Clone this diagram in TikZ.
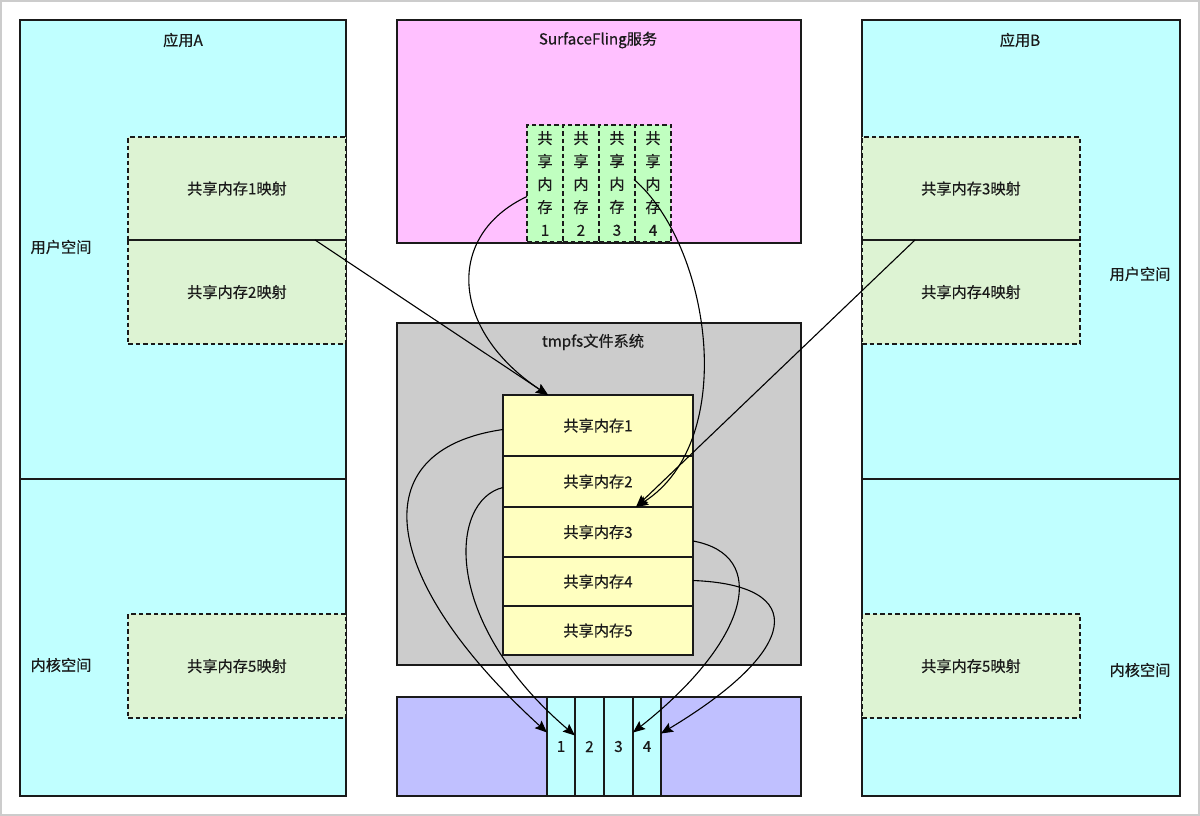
\documentclass[tikz,border=0pt]{standalone}
\usepackage{fontspec}
\setmainfont{Noto Sans CJK SC}[FakeBold=0.4]
\usetikzlibrary{fit,calc,arrows.meta}
\definecolor{appc}{HTML}{C0FFFF}
\definecolor{mapc}{HTML}{DDF3D3}
\definecolor{sfc}{HTML}{FFC0FF}
\definecolor{colc}{HTML}{C0FFC0}
\definecolor{tmpc}{HTML}{CCCCCC}
\definecolor{yelc}{HTML}{FFFFC0}
\definecolor{purc}{HTML}{C0C0FF}
\definecolor{linec}{HTML}{1A1A1A}
\begin{document}
\begin{tikzpicture}[x=1pt,y=-1pt,
  font=\fontsize{15.2}{18}\selectfont,
  box/.style={draw=linec, line width=1.1pt, inner sep=0pt, outer sep=0pt},
  dbox/.style={box, dash pattern=on 4.5pt off 3pt},
  lbl/.style={text=linec, inner sep=1pt},
  arr/.style={draw=black, line width=1.1pt, -{Stealth[length=12pt,width=10pt,inset=2pt]}}]
\useasboundingbox (0,0) rectangle (1200,816);
\draw[black!20, line width=1.2pt] (1,1) rectangle (1199,815);

% App A
\node[box, fill=appc, fit={(20,20)(346,796)}] (appA) {};
\draw[linec, line width=2.6pt] (appA.west |- 0,479) -- (appA.east |- 0,479);
\node[lbl] (appAt) at (183,40) {应用A};
\node[lbl] (appAu) at (61,247) {用户空间};
\node[lbl] (appAk) at (61,665) {内核空间};
\node[dbox, fill=mapc, fit={(128,137)(346,240)}] (m1) {};
\node[dbox, fill=mapc, fit={(128,240)(346,344)}] (m2) {};
\draw[linec, line width=1.1pt] (m1.south west) -- (m1.south east);
\node[lbl] at (m1.center) {共享内存1映射};
\node[lbl] at (m2.center) {共享内存2映射};
\node[dbox, fill=mapc, fit={(128,614)(346,718)}] (m5a) {};
\node[lbl] at (m5a.center) {共享内存5映射};

% App B
\node[box, fill=appc, fit={(862,20)(1180,796)}] (appB) {};
\draw[linec, line width=2.6pt] (appB.west |- 0,479) -- (appB.east |- 0,479);
\node[lbl] (appBt) at (1020,40) {应用B};
\node[lbl] (appBu) at (1140,274) {用户空间};
\node[lbl] (appBk) at (1140,670) {内核空间};
\node[dbox, fill=mapc, fit={(862,137)(1080,240)}] (m3) {};
\node[dbox, fill=mapc, fit={(862,240)(1080,344)}] (m4) {};
\draw[linec, line width=1.1pt] (m3.south west) -- (m3.south east);
\node[lbl] at (m3.center) {共享内存3映射};
\node[lbl] at (m4.center) {共享内存4映射};
\node[dbox, fill=mapc, fit={(862,614)(1080,718)}] (m5b) {};
\node[lbl] at (m5b.center) {共享内存5映射};

% SurfaceFling
\node[box, fill=sfc, fit={(397,20)(801,243)}] (sf) {};
\node[lbl] (sft) at (598,40) {SurfaceFling服务};
\foreach \i/\xa/\xb in {1/527/563,2/563/599,3/599/635,4/635/671}{
  \node[dbox, fill=colc, fit={(\xa,125)(\xb,242)}] (c\i) {};
  \node[lbl, align=center, font=\fontsize{15.2}{23}\selectfont] at (c\i.center) {共\\享\\内\\存\\\i};
}

% tmpfs
\node[box, fill=tmpc, fit={(397,323)(801,665)}] (tmp) {};
\node[lbl] (tmpt) at (593,342) {tmpfs文件系统};
\foreach \i/\ya/\yb in {1/395/456,2/456/507,3/507/557,4/557/606,5/606/655}{
  \node[box, fill=yelc, fit={(503,\ya)(693,\yb)}] (y\i) {};
  \node[lbl] at (y\i.center) {共享内存\i};
}

% bottom block
\node[box, fill=purc, fit={(397,697)(801,796)}] (bt) {};
\foreach \i/\xa/\xb in {1/547/575,2/575/604,3/604/633,4/633/661}{
  \node[box, fill=appc, fit={(\xa,697)(\xb,796)}] (b\i) {};
  \node[lbl] at (b\i.center) {\i};
}
\foreach \i in {1,2,3}{
  \draw[linec, line width=2.4pt] (b\i.north east) -- (b\i.south east);
}

% connectors
\draw[arr] ($(m1.south west)+(187,0)$) -- ($(y1.north west)+(45,0)$);
\draw[arr] ($(c1.west)+(0,13)$) .. controls (445,235) and (450,330) .. ($(y1.north west)+(45,0)$);
\draw[arr] ($(c3.east)+(-1,-4)$) .. controls (710,245) and (740,440) .. ($(y3.north west)+(133,0)$);
\draw[arr] ($(m3.south west)+(53,0)$) -- ($(y3.north west)+(133,0)$);
\draw[arr] ($(y1.west)+(0,4)$) .. controls (360,450) and (380,580) .. ($(b1.west)+(0,-14)$);
\draw[arr] ($(y2.west)+(0,6)$) .. controls (450,500) and (440,620) .. ($(b2.west)+(0,-11)$);
\draw[arr] ($(y3.east)+(0,9)$) .. controls (770,555) and (750,640) .. ($(b4.west)+(0,-14)$);
\draw[arr] ($(y4.east)+(0,-1)$) .. controls (810,585) and (800,650) .. ($(b4.east)+(0,-13)$);
\end{tikzpicture}
\end{document}
